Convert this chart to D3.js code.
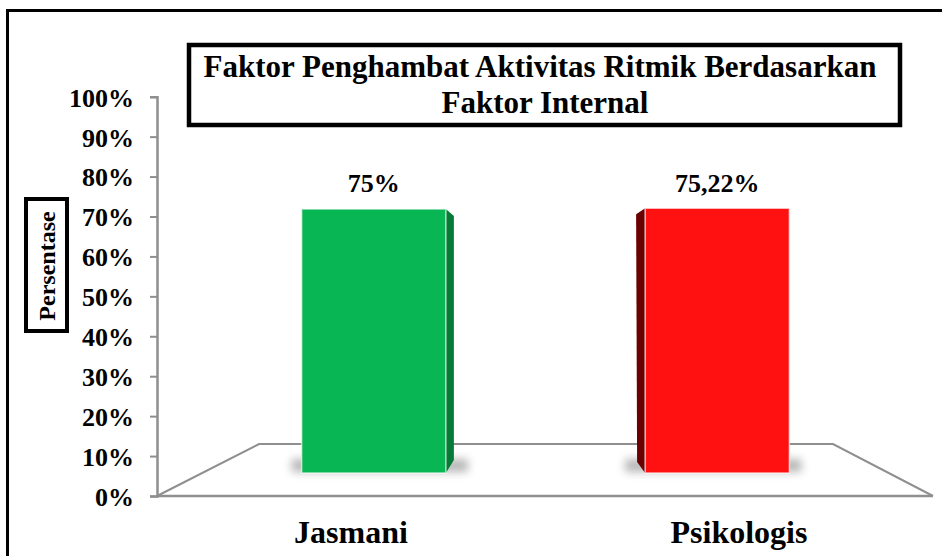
<!DOCTYPE html>
<html>
<head>
<meta charset="utf-8">
<script src="https://cdn.jsdelivr.net/npm/d3@7"></script>
<style>
  html, body { margin: 0; padding: 0; background: #fff; }
</style>
</head>
<body>
<div id="chart"></div>
<script>
// ---- data ----
const categories = ["Jasmani", "Psikologis"];
const values = [75, 75.22];
const valueLabels = ["75%", "75,22%"];
const yTicks = [0, 10, 20, 30, 40, 50, 60, 70, 80, 90, 100];
const titleLines = ["Faktor Penghambat Aktivitas Ritmik Berdasarkan", "Faktor Internal"];
const yLabel = "Persentase";
const frontColors = ["#08b653", "#ff1111"];
const sideColors = ["#067a36", "#6b0000"];

const FONT = "Liberation Serif";
const W = 942, H = 556;
const svg = d3.select("#chart").append("svg").attr("width", W).attr("height", H)
  .attr("font-family", FONT).style("display", "block");
const defs = svg.append("defs");
defs.append("filter").attr("id", "blur").attr("x", "-50%").attr("y", "-150%").attr("width", "200%").attr("height", "400%")
  .append("feGaussianBlur").attr("stdDeviation", 4.5);

function txt(sel) {
  return sel.attr("font-family", FONT).attr("font-weight", "bold").attr("fill", "#000");
}

// outer frame
svg.append("rect").attr("x", 7.5).attr("y", 10.5).attr("width", W + 20).attr("height", H + 20)
  .attr("fill", "none").attr("stroke", "#000").attr("stroke-width", 3);

// scales
const y = d3.scaleLinear().domain([0, 100]).range([496, 96.7]);
const xFront = d3.scaleBand().domain(categories).range([157, 933]);
const xBar = d3.scaleBand().domain(categories).range([202, 889]);
const yBar = d3.scaleLinear().domain([0, 100]).range([473, 121]);

// floor (3D plane)
const axisColor = "#8f8f8f";
const floor = [[157, 496], [259, 444], [833, 444], [933, 496]];
svg.append("path").attr("d", d3.line()(floor)).attr("fill", "none")
  .attr("stroke", axisColor).attr("stroke-width", 2);
svg.append("line").attr("x1", 157).attr("x2", 933).attr("y1", y(0)).attr("y2", y(0))
  .attr("stroke", axisColor).attr("stroke-width", 2.5);

// y axis
const yAxis = svg.append("g").attr("transform", "translate(157,0)")
  .call(d3.axisLeft(y).tickValues(yTicks).tickFormat(d => d + "%").tickSize(7).tickPadding(16));
yAxis.select(".domain").attr("stroke", axisColor).attr("stroke-width", 2.5);
yAxis.selectAll(".tick line").attr("stroke", axisColor).attr("stroke-width", 2);
txt(yAxis.selectAll(".tick text")).attr("font-size", 26).attr("dy", "0.36em");

// bars
const barFrac = 0.42;
const bars = svg.append("g");
categories.forEach((c, i) => {
  const cx = xBar(c) + xBar.bandwidth() / 2;
  const bw = xBar.bandwidth() * barFrac;
  const l = cx - bw / 2, r = cx + bw / 2;
  const top = yBar(values[i]), bot = yBar(0);
  const g = bars.append("g");
  // shadow
  const shL = i === 0 ? l - 10 : l - 20;
  const shR = i === 0 ? r + 22 : r + 12;
  g.append("rect").attr("x", shL).attr("y", bot - 14).attr("width", shR - shL).attr("height", 13)
    .attr("fill", "#888").attr("opacity", 0.6).attr("filter", "url(#blur)");
  // side face
  let side;
  if (i === 0) {
    side = [[r, top], [r + 8, top + 7], [r + 8, bot - 13], [r, bot]];
  } else {
    side = [[l, top], [l - 9, top + 6], [l - 8, bot - 11], [l, bot]];
  }
  g.append("path").attr("d", d3.line()(side) + "Z").attr("fill", sideColors[i]);
  // front face
  g.append("rect").attr("x", l).attr("y", top).attr("width", bw).attr("height", bot - top)
    .attr("fill", frontColors[i]).attr("stroke", "rgba(255,255,255,0.65)").attr("stroke-width", 1.5);
  // value label
  txt(svg.append("text")).attr("x", cx).attr("y", 192).attr("text-anchor", "middle")
    .attr("font-size", 26).text(valueLabels[i]);
  // category label
  txt(svg.append("text")).attr("x", xFront(c) + xFront.bandwidth() / 2).attr("y", 543).attr("text-anchor", "middle")
    .attr("font-size", 32).text(c);
});

// title box
svg.append("rect").attr("x", 189).attr("y", 45).attr("width", 711).attr("height", 80)
  .attr("fill", "#fff").attr("stroke", "#000").attr("stroke-width", 4.5);
txt(svg.append("text")).attr("x", 540).attr("y", 77).attr("text-anchor", "middle")
  .attr("font-size", 31).text(titleLines[0]);
txt(svg.append("text")).attr("x", 545).attr("y", 113).attr("text-anchor", "middle")
  .attr("font-size", 31).text(titleLines[1]);

// y label box
svg.append("rect").attr("x", 26).attr("y", 199).attr("width", 41).attr("height", 132)
  .attr("fill", "#fff").attr("stroke", "#000").attr("stroke-width", 4);
txt(svg.append("text")).attr("transform", "translate(55,266) rotate(-90)").attr("text-anchor", "middle")
  .attr("font-size", 24).text(yLabel);
</script>
</body>
</html>
